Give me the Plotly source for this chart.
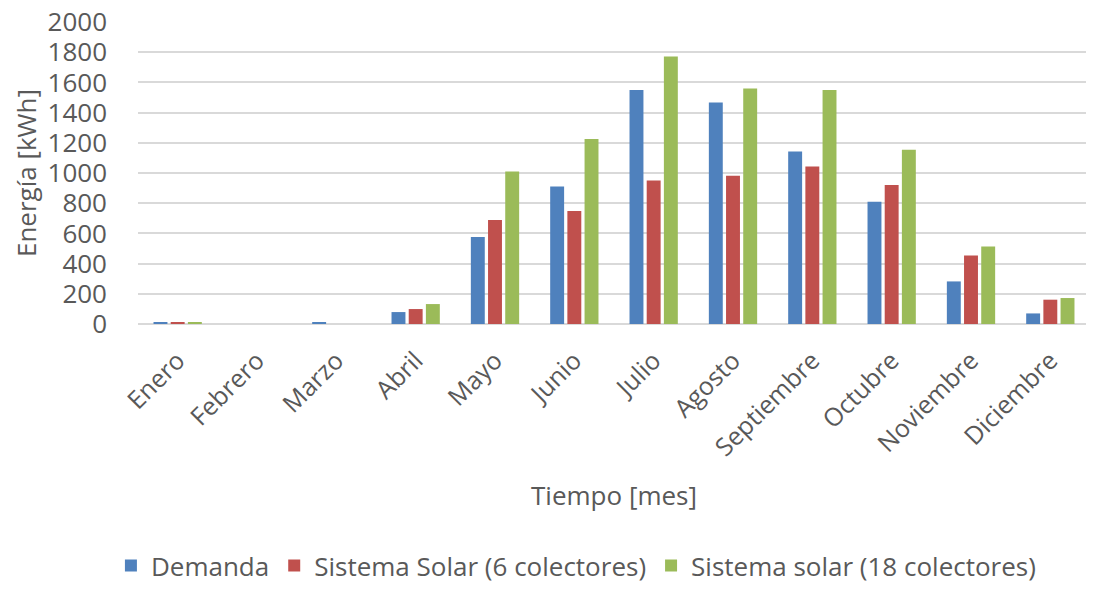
import plotly.graph_objects as go

months = ["Enero", "Febrero", "Marzo", "Abril", "Mayo", "Junio", "Julio",
          "Agosto", "Septiembre", "Octubre", "Noviembre", "Diciembre"]
demanda = [10, 0, 10, 79, 576, 911, 1549, 1467, 1143, 810, 282, 70]
solar6 = [10, 0, 0, 99, 688, 748, 951, 982, 1043, 920, 454, 161]
solar18 = [10, 0, 0, 132, 1010, 1225, 1771, 1560, 1549, 1154, 514, 172]
y_ticks = [0, 200, 400, 600, 800, 1000, 1200, 1400, 1600, 1800, 2000]

names = ["Demanda", "Sistema Solar (6 colectores)", "Sistema solar (18 colectores)"]
colors = ["#4f81bd", "#c0504d", "#9bbb59"]

font = "Open Sans"
gray = "#595959"

fig = go.Figure()
for n, vals, c in zip(names, [demanda, solar6, solar18], colors):
    fig.add_trace(go.Bar(x=months, y=vals, name=n, marker_color=c, marker_line_width=0))

fig.update_layout(
    width=1086, height=585,
    margin=dict(l=130, r=4, t=14, b=269, autoexpand=False),
    paper_bgcolor="white", plot_bgcolor="white",
    barmode="group", bargap=0.35, bargroupgap=0.19,
    font=dict(family=font, color=gray),
    legend=dict(orientation="h", x=0.46, xanchor="center", y=-0.80, yanchor="middle",
                font=dict(size=26, color=gray), itemwidth=30,
                traceorder="normal"),
    xaxis=dict(tickangle=-45, tickfont=dict(size=25, color=gray), automargin=False,
               title=dict(text="Tiempo [mes]", font=dict(size=26, color=gray), standoff=25),
               showline=False, ticks="", ticklabelstandoff=16),
    yaxis=dict(range=[0, 2000], tickmode="array", tickvals=y_ticks,
               tickfont=dict(size=26, color=gray), automargin=False,
               ticklabeloverflow="allow",
               gridcolor="#d9d9d9", gridwidth=1.5, zeroline=True, zerolinecolor="#d9d9d9",
               zerolinewidth=1.5,
               title=dict(text="Energía [kWh]", font=dict(size=26, color=gray), standoff=16),
               ticks="", ticklabelstandoff=30),
)
fig.write_html("out.html")
